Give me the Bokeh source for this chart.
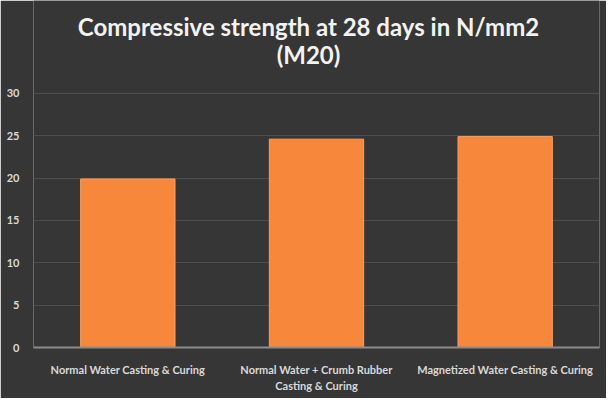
from bokeh.plotting import figure
from bokeh.models import FixedTicker, Range1d, ColumnDataSource
from bokeh.core.properties import value
from bokeh.embed import file_html
from bokeh.resources import INLINE

categories = ["Normal Water Casting & Curing",
              "Normal Water + Crumb Rubber\nCasting & Curing",
              "Magnetized Water Casting & Curing"]
strength = [19.9, 24.6, 24.9]
y_ticks = [0, 5, 10, 15, 20, 25, 30]
title_lines = ["Compressive strength at 28 days in N/mm2", "(M20)"]

BG = "#363636"
TXT = "#d9d9d9"

p = figure(x_range=categories, width=606, height=398, output_backend="svg",
           toolbar_location=None, min_border_left=33, min_border_right=7,
           min_border_bottom=51, min_border_top=0,
           background_fill_color=BG, border_fill_color=BG, outline_line_color=None)
# axis maximum is 30; the extra room above holds the two-line title
p.y_range = Range1d(0, 40.97)
p.x_range.range_padding = 0

src = ColumnDataSource(dict(cat=categories, val=strength))
p.vbar(x="cat", top="val", width=0.5, source=src, fill_color="#F7873A",
       line_color="#F9A060", line_width=1)

tsrc = ColumnDataSource(dict(x=[categories[1]] * 2, y=[37.9, 34.6], t=title_lines))
p.text(x="x", y="y", text="t", source=tsrc, text_align="center",
       text_baseline="alphabetic", text_font=value("Lato"), text_font_size="24px",
       text_font_style="bold", text_color="#f2f2f2", x_offset=-8)

p.yaxis.ticker = FixedTicker(ticks=y_ticks)
p.yaxis.axis_line_color = None
p.yaxis.major_tick_line_color = None
p.yaxis.minor_tick_line_color = None
p.yaxis.major_label_text_font = "Lato"
p.yaxis.major_label_text_font_size = "11px"
p.yaxis.major_label_text_font_style = "bold"
p.yaxis.major_label_text_color = TXT
p.yaxis.major_label_standoff = 8

p.xaxis.axis_line_color = "#8c8c8c"
p.xaxis.axis_line_width = 2
p.xaxis.major_tick_line_color = None
p.xaxis.minor_tick_line_color = None
p.xaxis.major_label_text_font = "Lato"
p.xaxis.major_label_text_font_size = "11px"
p.xaxis.major_label_text_font_style = "bold"
p.xaxis.major_label_text_color = TXT
p.xaxis.major_label_text_line_height = 1.3
p.xaxis.major_label_standoff = 9

p.xgrid.grid_line_color = None
p.ygrid.grid_line_color = "#4e4e4e"
p.ygrid.grid_line_width = 1

open("out.html", "w").write(file_html(p, INLINE))
